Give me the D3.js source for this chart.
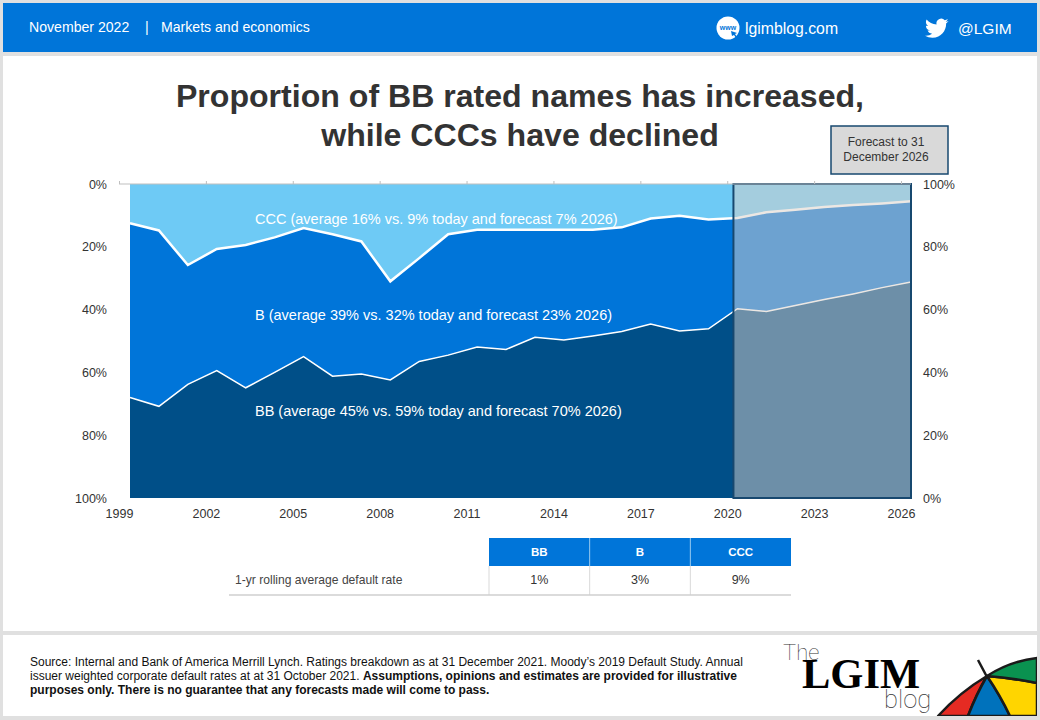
<!DOCTYPE html>
<html>
<head>
<meta charset="utf-8">
<script src="https://cdn.jsdelivr.net/npm/d3@7"></script>
<style>
html, body { margin: 0; padding: 0; background: #e0e0e0; }
svg { display: block; font-family: "Liberation Sans", Arial, sans-serif; }
</style>
</head>
<body>
<svg id="chart" width="1040" height="720"></svg>
<script>
var years = [1999,2000,2001,2002,2003,2004,2005,2006,2007,2008,2009,2010,2011,2012,2013,2014,2015,2016,2017,2018,2019,2020,2021,2022,2023,2024,2025,2026];
var bbValues = [32,29.2,36.2,40.6,35.1,40,45,38.8,39.5,37.6,43.5,45.5,48.1,47.3,51.2,50.3,51.6,53,55.4,53.2,53.9,60.3,59.4,61.3,63.2,65,67,68.8];
var bValues = [55.5,56,38,38.7,45.5,43,41,45.2,42.2,31.4,32.9,38.5,37.3,38.1,34.2,35.1,33.8,33.2,33.6,36.7,34.8,28.9,31.6,30.5,29.5,28.3,26.8,25.7];
var cccValues = [12.5,14.8,25.8,20.7,19.4,17,14,16,18.3,31,23.6,16,14.6,14.6,14.6,14.6,14.6,13.8,11,10.1,11.3,10.8,9,8.2,7.3,6.7,6.2,5.5];
var tickYears = [1999,2002,2005,2008,2011,2014,2017,2020,2023,2026];
var pctTicks = [0,20,40,60,80,100];
var ratings = ["BB","B","CCC"];
var defaultRates = ["1%","3%","9%"];
var ratingColors = {BB: "#004f88", B: "#0075d9", CCC: "#6ecaf5"};
var seriesLabels = [
  "CCC (average 16% vs. 9% today and forecast 7% 2026)",
  "B (average 39% vs. 32% today and forecast 23% 2026)",
  "BB (average 45% vs. 59% today and forecast 70% 2026)"
];

var svg = d3.select("#chart");

// page panels
svg.append("rect").attr("x", 3).attr("y", 3).attr("width", 1034).attr("height", 49).attr("fill", "#0075d9");
svg.append("rect").attr("x", 3).attr("y", 56).attr("width", 1034).attr("height", 575).attr("fill", "#fff");
svg.append("rect").attr("x", 3).attr("y", 635).attr("width", 1034).attr("height", 81).attr("fill", "#fff");

// header
function headerText(x, y, size, str) {
  return svg.append("text").attr("x", x).attr("y", y).attr("fill", "#fff").attr("font-size", size).text(str);
}
headerText(29, 32, 14.1, "November 2022");
headerText(145, 32, 14.1, "|");
headerText(161, 32, 14.1, "Markets and economics");
headerText(745, 34, 15.8, "lgimblog.com");
headerText(958, 34, 15.5, "@LGIM");
svg.append("circle").attr("cx", 728).attr("cy", 28).attr("r", 11.5).attr("fill", "#fff");
svg.append("text").attr("x", 728).attr("y", 30).attr("text-anchor", "middle").attr("font-size", 7).attr("font-weight", "bold").attr("fill", "#0075d9").text("www");
svg.append("path").attr("d", "M731 31l6 2-2 1 2 3-1 1-2-3-2 1z").attr("fill", "#0075d9");
svg.append("path")
  .attr("transform", "translate(925,16.5) scale(0.98)")
  .attr("fill", "#fff")
  .attr("d", "M23.953 4.57a10 10 0 01-2.825.775 4.958 4.958 0 002.163-2.723c-.951.555-2.005.959-3.127 1.184a4.92 4.92 0 00-8.384 4.482C7.69 8.095 4.067 6.13 1.64 3.162a4.822 4.822 0 00-.666 2.475c0 1.71.87 3.213 2.188 4.096a4.904 4.904 0 01-2.228-.616v.06a4.923 4.923 0 003.946 4.827 4.996 4.996 0 01-2.212.085 4.936 4.936 0 004.604 3.417 9.867 9.867 0 01-6.102 2.105c-.39 0-.779-.023-1.17-.067a13.995 13.995 0 007.557 2.209c9.053 0 13.998-7.496 13.998-13.985 0-.21 0-.42-.015-.63A9.935 9.935 0 0024 4.59z");

// title
svg.append("text").attr("x", 520).attr("y", 107).attr("text-anchor", "middle").attr("font-size", 32.1).attr("font-weight", "bold").attr("fill", "#333").text("Proportion of BB rated names has increased,");
svg.append("text").attr("x", 520).attr("y", 146).attr("text-anchor", "middle").attr("font-size", 32.1).attr("font-weight", "bold").attr("fill", "#333").text("while CCCs have declined");

// scales
var x = d3.scalePoint().domain(years).range([130, 911]);
var xAxisScale = d3.scalePoint().domain(years).range([119, 901]);
var y = d3.scaleLinear().domain([0, 100]).range([498, 184]);
var yLeft = d3.scaleLinear().domain([0, 100]).range([184, 498]);

var rows = years.map(function(yr, i) {
  return {year: yr, BB: bbValues[i], B: bValues[i], CCC: cccValues[i]};
});
var stacked = d3.stack().keys(ratings)(rows);

var area = d3.area()
  .x(function(d) { return x(d.data.year); })
  .y0(function(d) { return y(d[0]); })
  .y1(function(d) { return y(d[1]); });

svg.selectAll("path.band").data(stacked).enter().append("path")
  .attr("class", "band")
  .attr("d", area)
  .attr("fill", function(d) { return ratingColors[d.key]; });

// white lines between the bands
var topLine = d3.line()
  .x(function(d) { return x(d.data.year); })
  .y(function(d) { return y(d[1]); });
svg.selectAll("path.edge").data(stacked.slice(0, 2)).enter().append("path")
  .attr("class", "edge")
  .attr("d", topLine)
  .attr("fill", "none")
  .attr("stroke", "#fff")
  .attr("stroke-width", function(d, i) { return i == 0 ? 1.5 : 2.5; });

// band labels
svg.selectAll("text.band-label").data(seriesLabels).enter().append("text")
  .attr("class", "band-label")
  .attr("x", 255)
  .attr("y", function(d, i) { return 224 + i * 96; })
  .attr("fill", "#fff")
  .attr("font-size", 14.5)
  .text(function(d) { return d; });

// forecast overlay
svg.append("rect")
  .attr("x", x(2020) - 4)
  .attr("y", y(100))
  .attr("width", x(2026) - x(2020) + 4)
  .attr("height", y(0) - y(100))
  .attr("fill", "#d9d0c8")
  .attr("fill-opacity", 0.5);
svg.append("rect")
  .attr("x", x(2020) - 4)
  .attr("y", y(100))
  .attr("width", x(2026) - x(2020) + 4)
  .attr("height", y(0) - y(100))
  .attr("fill", "none")
  .attr("stroke", "#17486f")
  .attr("stroke-width", 2);

// axes
var topAxis = svg.append("g").attr("transform", "translate(0," + y(100) + ")")
  .call(d3.axisTop(xAxisScale).tickValues(tickYears).tickSize(3).tickFormat(""));
topAxis.selectAll("path, line").attr("stroke", "#bfbfbf");
topAxis.select(".domain").attr("d", "M119,0H911");

var bottomAxis = svg.append("g").attr("transform", "translate(0," + (y(0) + 8) + ")")
  .call(d3.axisBottom(xAxisScale).tickValues(tickYears).tickSize(0).tickFormat(d3.format("d")));
var leftAxis = svg.append("g").attr("transform", "translate(110,0)")
  .call(d3.axisLeft(yLeft).tickValues(pctTicks).tickSize(0).tickFormat(function(d) { return d + "%"; }));
var rightAxis = svg.append("g").attr("transform", "translate(920,0)")
  .call(d3.axisRight(y).tickValues(pctTicks).tickSize(0).tickFormat(function(d) { return d + "%"; }));
[bottomAxis, leftAxis, rightAxis].forEach(function(a) {
  a.select(".domain").remove();
  a.selectAll("text").attr("font-size", 12.5).attr("font-family", "Liberation Sans").attr("fill", "#333");
});

// forecast box
svg.append("rect").attr("x", 831).attr("y", 126).attr("width", 117).attr("height", 48).attr("fill", "#d9d9d9").attr("stroke", "#17486f").attr("stroke-width", 1.5);
svg.append("text").attr("x", 886).attr("y", 146).attr("text-anchor", "middle").attr("font-size", 12).attr("fill", "#333").text("Forecast to 31");
svg.append("text").attr("x", 886).attr("y", 161).attr("text-anchor", "middle").attr("font-size", 12).attr("fill", "#333").text("December 2026");

// default rate table
var col = d3.scaleBand().domain(ratings).range([489, 791]);
svg.selectAll("rect.head").data(ratings).enter().append("rect")
  .attr("class", "head")
  .attr("x", function(d) { return col(d); })
  .attr("y", 538)
  .attr("width", col.bandwidth())
  .attr("height", 28)
  .attr("fill", "#0075d9");
svg.selectAll("text.head").data(ratings).enter().append("text")
  .attr("class", "head")
  .attr("x", function(d) { return col(d) + col.bandwidth() / 2; })
  .attr("y", 556)
  .attr("text-anchor", "middle")
  .attr("font-size", 11.5)
  .attr("font-weight", "bold")
  .attr("fill", "#fff")
  .text(function(d) { return d; });
svg.selectAll("text.rate").data(defaultRates).enter().append("text")
  .attr("class", "rate")
  .attr("x", function(d, i) { return col(ratings[i]) + col.bandwidth() / 2; })
  .attr("y", 584)
  .attr("text-anchor", "middle")
  .attr("font-size", 12.5)
  .attr("fill", "#333")
  .text(function(d) { return d; });
svg.selectAll("line.sep").data(ratings.slice(1)).enter().append("line")
  .attr("class", "sep")
  .attr("x1", function(d) { return col(d); })
  .attr("x2", function(d) { return col(d); })
  .attr("y1", 538).attr("y2", 566)
  .attr("stroke", "#8fc4ee");
svg.selectAll("line.cell").data(ratings).enter().append("line")
  .attr("class", "cell")
  .attr("x1", function(d) { return col(d); })
  .attr("x2", function(d) { return col(d); })
  .attr("y1", 566).attr("y2", 595)
  .attr("stroke", "#d9d9d9");
svg.append("line").attr("x1", 229).attr("x2", 791).attr("y1", 595).attr("y2", 595).attr("stroke", "#cfcfcf").attr("stroke-width", 1.5);
svg.append("text").attr("x", 235).attr("y", 584).attr("font-size", 12.1).attr("fill", "#444").text("1-yr rolling average default rate");

// source note
var note = svg.append("text").attr("font-size", 12).attr("fill", "#111");
note.append("tspan").attr("x", 30).attr("y", 666).text("Source: Internal and Bank of America Merrill Lynch. Ratings breakdown as at 31 December 2021. Moody\u2019s 2019 Default Study. Annual");
note.append("tspan").attr("x", 30).attr("y", 680).text("issuer weighted corporate default rates at at 31 October 2021. ");
note.append("tspan").attr("font-weight", "bold").text("Assumptions, opinions  and estimates are provided  for illustrative");
note.append("tspan").attr("x", 30).attr("y", 694).attr("font-weight", "bold").text("purposes only.  There is no guarantee that any forecasts made will come to pass.");

// logo
svg.append("text").attr("x", 783).attr("y", 660).attr("font-family", "Roboto").attr("font-weight", 100).attr("font-size", 22).attr("fill", "#333").text("The");
svg.append("text").attr("x", 802).attr("y", 688).attr("font-family", "Liberation Serif").attr("font-weight", "bold").attr("font-size", 42.5).attr("fill", "#000").text("LGIM");
svg.append("text").attr("x", 884).attr("y", 708).attr("font-family", "Roboto").attr("font-weight", 100).attr("font-size", 25.5).attr("fill", "#333").text("blog");

var umbrella = svg.append("g");
umbrella.append("path").attr("d", "M987 676Q960 692 938 716H968Q976 695 987 676Z").attr("fill", "#e52b23");
umbrella.append("path").attr("d", "M987 676Q976 695 968 716H1010Q1000 695 987 676Z").attr("fill", "#0072bc");
umbrella.append("path").attr("d", "M987 676Q1000 695 1010 716H1037V683Q1012 678 987 676Z").attr("fill", "#ffd500");
umbrella.append("path").attr("d", "M987 676Q1012 678 1037 683V658Q1010 661 987 676Z").attr("fill", "#0a9250");
umbrella.selectAll("path").attr("stroke", "#1a1a1a").attr("stroke-width", 2.5).attr("stroke-linejoin", "round");
umbrella.append("line").attr("x1", 978).attr("y1", 660).attr("x2", 987).attr("y2", 677).attr("stroke", "#1a1a1a").attr("stroke-width", 2.5);
// bottom and right of the panel cover the umbrella strokes
svg.append("rect").attr("x", 0).attr("y", 716).attr("width", 1040).attr("height", 4).attr("fill", "#e0e0e0");
svg.append("rect").attr("x", 1037).attr("y", 635).attr("width", 3).attr("height", 85).attr("fill", "#e0e0e0");
</script>
</body>
</html>
